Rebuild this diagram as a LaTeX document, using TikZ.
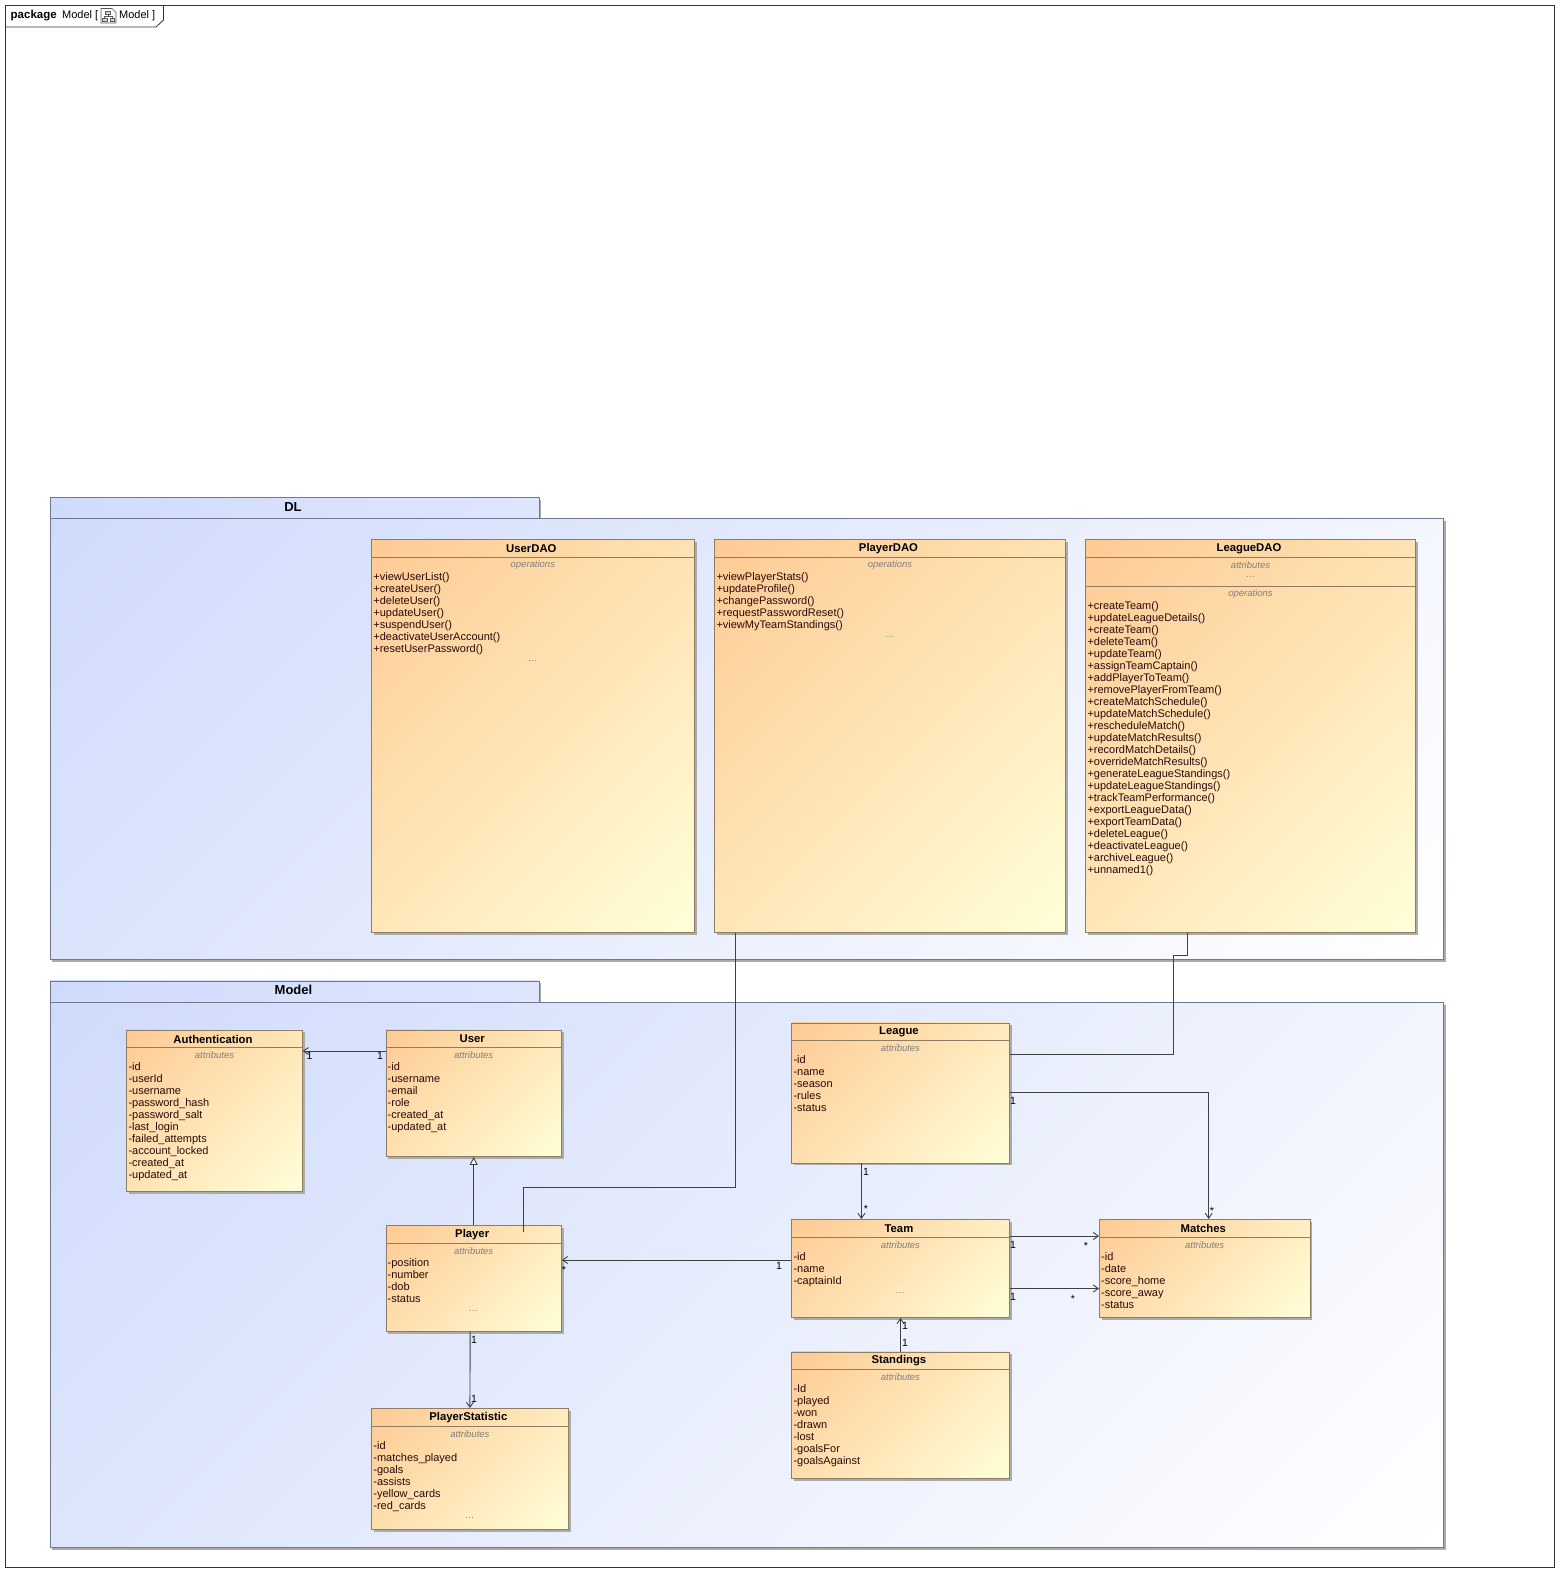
\documentclass[tikz,border=0pt]{standalone}
\usepackage{fontspec}
\setmainfont{Liberation Sans}
\usetikzlibrary{arrows.meta,shadows}

\definecolor{classedge}{HTML}{8F7C64}
\definecolor{classstart}{HTML}{FECA94}
\definecolor{classend}{HTML}{FFFFD8}
\definecolor{pkgedge}{HTML}{6F7A8E}
\definecolor{pkgstart}{HTML}{D0DBFB}
\definecolor{pkgtabend}{HTML}{DFE5FD}
\definecolor{pkgend}{HTML}{FFFFFF}
\definecolor{membertext}{HTML}{2A0A0A}

% colour runs from corner to corner once the shading is turned by 45 degrees
\pgfdeclarehorizontalshading{classfade}{100bp}{color(0bp)=(classstart); color(14.6bp)=(classstart); color(85.4bp)=(classend); color(100bp)=(classend)}
\pgfdeclarehorizontalshading{pkgfade}{100bp}{color(0bp)=(pkgstart); color(14.6bp)=(pkgstart); color(85.4bp)=(pkgend); color(100bp)=(pkgend)}

\tikzset{
  classnode/.style={draw=classedge,line width=.9pt,inner sep=0pt,anchor=north west,
    shade,shading=classfade,shading angle=-45,
    drop shadow={shadow xshift=2.5pt,shadow yshift=-2.5pt,fill=black!33,opacity=1}},
  pkgnode/.style={draw=pkgedge,line width=.9pt,inner sep=0pt,anchor=north west,
    shade,shading=pkgfade,shading angle=-45,
    drop shadow={shadow xshift=2.5pt,shadow yshift=-2.5pt,fill=black!33,opacity=1}},
  pkgtabnode/.style={draw=pkgedge,line width=.9pt,inner sep=0pt,anchor=north west,
    left color=pkgstart,right color=pkgtabend,
    drop shadow={shadow xshift=2.5pt,shadow yshift=-2.5pt,fill=black!33,opacity=1}},
  classtitle/.style={font=\bfseries\fontsize{11.3}{12}\selectfont,inner sep=0pt},
  pkgtitle/.style={font=\bfseries\fontsize{13}{14}\selectfont,inner sep=0pt},
  complabel/.style={font=\itshape\fontsize{9.5}{12}\selectfont,text=black!50,inner sep=0pt},
  memberlist/.style={font=\fontsize{11}{12}\selectfont,text=membertext,align=left,inner sep=0pt,anchor=north west},
  mult/.style={font=\fontsize{10.5}{12}\selectfont,inner sep=0pt},
  assoc/.style={draw=black!75,line width=.9pt,-{Straight Barb[length=5pt,width=7pt]}},
  plainlink/.style={draw=black!75,line width=.9pt},
  genlink/.style={draw=black!75,line width=.9pt,-{Triangle[open,length=8pt,width=8pt,fill=white]}},
}

% id, north west corner, width, height, title
\newcommand{\classbox}[5]{
  \node[classnode,minimum width=#3pt,minimum height=#4pt] (#1) at (#2) {};
  \draw[classedge,line width=.8pt] ([yshift=-18pt]#1.north west) -- ([yshift=-18pt]#1.north east);
  \node[classtitle] (#1title) at ([xshift=-1.5pt,yshift=-9.5pt]#1.north) {#5};
}
% id, name of the node, distance below the top of the box, text
\newcommand{\compname}[4]{
  \node[complabel] (#1#2) at ([yshift=-#3pt]#1.north) {#4};
}
% id, distance below the top of the box, lines
\newcommand{\members}[3]{
  \node[memberlist] (#1members) at ([xshift=2pt,yshift=-#2pt]#1.north west) {#3};
}

\begin{document}
\begin{tikzpicture}[x=1pt,y=-1pt]
  \useasboundingbox (0,0) rectangle (1559,1572);
  \fill[white] (0,0) rectangle (1559,1572);

  % outer frame
  \coordinate (frameNW) at (5,5);
  \coordinate (frameSE) at (1554,1567);
  \draw[black!80,line width=.8pt] (frameNW) rectangle (frameSE);
  \draw[black!80,line width=.8pt] (5,27) -- (156,27) -- (163.5,20) -- (163.5,5);
  \node[font=\bfseries\fontsize{11.5}{12}\selectfont,inner sep=0pt,anchor=west] (framekind) at (10.5,15.5) {package};
  \node[font=\fontsize{11}{12}\selectfont,inner sep=0pt,anchor=west] (framename) at (62,15.5) {Model [};
  \node[font=\fontsize{11}{12}\selectfont,inner sep=0pt,anchor=west] (frametail) at (119,15.5) {Model ]};
  % little diagram icon
  \draw[black!65,line width=.6pt,fill=white] (101,8.5) -- (112,8.5) -- (116,12.5) -- (116,23) -- (101,23) -- cycle;
  \draw[black!65,line width=.7pt,fill=black!15] (105.5,11) rectangle (110.5,14.5);
  \draw[black!65,line width=.7pt,fill=black!15] (102.5,18) rectangle (107,21.5);
  \draw[black!65,line width=.7pt,fill=black!15] (110,18) rectangle (114.5,21.5);
  \draw[black!65,line width=.6pt] (108,14.5) -- (108,16.5) (104.7,18) -- (104.7,16.5) -- (112.2,16.5) -- (112.2,18);

  % packages
  \node[pkgtabnode,minimum width=489pt,minimum height=22pt] (DLtab) at (49.5,497) {};
  \node[pkgnode,minimum width=1393.5pt,minimum height=441pt] (DLbody) at (49.5,518.3) {};
  \node[pkgtitle] (DLtitle) at (293,507.5) {DL};

  \node[pkgtabnode,minimum width=489pt,minimum height=22pt] (Modeltab) at (49.5,980.5) {};
  \node[pkgnode,minimum width=1393.5pt,minimum height=545pt] (Modelbody) at (49.5,1001.7) {};
  \node[pkgtitle] (Modeltitle) at (293.5,990) {Model};

  % DAO classes
  \classbox{UserDAO}{371.2,539.3}{322.4}{392.4}{UserDAO}
  \compname{UserDAO}{ops}{26}{operations}
  \members{UserDAO}{33}{+viewUserList()\\+createUser()\\+deleteUser()\\+updateUser()\\+suspendUser()\\+deactivateUserAccount()\\+resetUserPassword()}
  \compname{UserDAO}{dots}{122}{\ldots}

  \classbox{PlayerDAO}{714.3,539.3}{350.5}{392.4}{PlayerDAO}
  \compname{PlayerDAO}{ops}{26}{operations}
  \members{PlayerDAO}{33}{+viewPlayerStats()\\+updateProfile()\\+changePassword()\\+requestPasswordReset()\\+viewMyTeamStandings()}
  \compname{PlayerDAO}{dots}{98}{\ldots}

  \classbox{LeagueDAO}{1085.3,539.3}{329.5}{392.4}{LeagueDAO}
  \compname{LeagueDAO}{attrs}{26}{attributes}
  \compname{LeagueDAO}{dots}{38}{\ldots}
  \draw[classedge,line width=.8pt] ([yshift=-47pt]LeagueDAO.north west) -- ([yshift=-47pt]LeagueDAO.north east);
  \compname{LeagueDAO}{ops}{55}{operations}
  \members{LeagueDAO}{62}{+createTeam()\\+updateLeagueDetails()\\+createTeam()\\+deleteTeam()\\+updateTeam()\\+assignTeamCaptain()\\+addPlayerToTeam()\\+removePlayerFromTeam()\\+createMatchSchedule()\\+updateMatchSchedule()\\+rescheduleMatch()\\+updateMatchResults()\\+recordMatchDetails()\\+overrideMatchResults()\\+generateLeagueStandings()\\+updateLeagueStandings()\\+trackTeamPerformance()\\+exportLeagueData()\\+exportTeamData()\\+deleteLeague()\\+deactivateLeague()\\+archiveLeague()\\+unnamed1()}

  % model classes
  \classbox{Authentication}{126.3,1029.5}{175.5}{161.5}{Authentication}
  \compname{Authentication}{attrs}{26}{attributes}
  \members{Authentication}{33}{-id\\-userId\\-username\\-password\_hash\\-password\_salt\\-last\_login\\-failed\_attempts\\-account\_locked\\-created\_at\\-updated\_at}

  \classbox{User}{385.5,1029.5}{175.5}{126.5}{User}
  \compname{User}{attrs}{26}{attributes}
  \members{User}{33}{-id\\-username\\-email\\-role\\-created\_at\\-updated\_at}

  \classbox{Player}{385.5,1225}{175.5}{106}{Player}
  \compname{Player}{attrs}{26}{attributes}
  \members{Player}{33}{-position\\-number\\-dob\\-status}
  \compname{Player}{dots}{86}{\ldots}

  \classbox{PlayerStatistic}{371.2,1408}{196.5}{121}{PlayerStatistic}
  \compname{PlayerStatistic}{attrs}{26}{attributes}
  \members{PlayerStatistic}{33}{-id\\-matches\_played\\-goals\\-assists\\-yellow\_cards\\-red\_cards}
  \compname{PlayerStatistic}{dots}{110}{\ldots}

  \classbox{League}{791.3,1022.5}{217.4}{140}{League}
  \compname{League}{attrs}{26}{attributes}
  \members{League}{33}{-id\\-name\\-season\\-rules\\-status}

  \classbox{Team}{791.3,1219}{217.4}{98}{Team}
  \compname{Team}{attrs}{26}{attributes}
  \members{Team}{33}{-id\\-name\\-captainId}
  \compname{Team}{dots}{74}{\ldots}

  \classbox{Matches}{1099,1219}{210.5}{98}{Matches}
  \compname{Matches}{attrs}{26}{attributes}
  \members{Matches}{33}{-id\\-date\\-score\_home\\-score\_away\\-status}

  \classbox{Standings}{791.3,1351.5}{217.4}{126.5}{Standings}
  \compname{Standings}{attrs}{26}{attributes}
  \members{Standings}{33}{-Id\\-played\\-won\\-drawn\\-lost\\-goalsFor\\-goalsAgainst}

  % connectors
  \draw[assoc] ([yshift=-21.5pt]User.north west) -- ([yshift=-21.5pt]Authentication.north east);
  \draw[genlink] (Player.north) -- (User.south);
  \draw[plainlink] ([xshift=-154.5pt]PlayerDAO.south) |- ([xshift=49.5pt,yshift=37.5pt]Player.north) -- ([xshift=49.5pt,yshift=-7pt]Player.north);
  \draw[plainlink] ([xshift=-63.5pt]LeagueDAO.south) |- (1173,955.5) |- ([yshift=-31.5pt]League.north east);
  \draw[assoc] ([yshift=-69.5pt]League.north east) -| ([xshift=4pt]Matches.north);
  \draw[assoc] ([xshift=-39pt]League.south) -- ([xshift=-39pt]Team.north);
  \draw[assoc] ([yshift=-41pt]Team.north west) -- ([yshift=-35pt]Player.north east);
  \draw[assoc] ([yshift=-17pt]Team.north east) -- ([yshift=-17pt]Matches.north west);
  \draw[assoc] ([yshift=-69.5pt]Team.north east) -- ([yshift=-69.5pt]Matches.north west);
  \draw[assoc] ([xshift=-3.5pt]Player.south) -- (PlayerStatistic.north);
  \draw[assoc] (Standings.north) -- (Team.south);

  % multiplicities
  \node[mult] (authOne) at (309.5,1056) {1};
  \node[mult] (userOne) at (380,1056) {1};
  \node[mult] (leagueMatchOne) at (1013,1101) {1};
  \node[mult] (leagueMatchStar) at (1212,1210.5) {*};
  \node[mult] (leagueTeamOne) at (866,1171.5) {1};
  \node[mult] (leagueTeamStar) at (866,1209) {*};
  \node[mult] (teamPlayerOne) at (779,1266) {1};
  \node[mult] (teamPlayerStar) at (564,1270) {*};
  \node[mult] (teamMatchOneA) at (1013,1245) {1};
  \node[mult] (teamMatchStarA) at (1086,1246) {*};
  \node[mult] (teamMatchOneB) at (1013,1297) {1};
  \node[mult] (teamMatchStarB) at (1073,1299) {*};
  \node[mult] (playerStatOneA) at (474,1339.5) {1};
  \node[mult] (playerStatOneB) at (474,1398.5) {1};
  \node[mult] (standTeamOneA) at (905,1325.5) {1};
  \node[mult] (standTeamOneB) at (905,1342.5) {1};
\end{tikzpicture}
\end{document}
